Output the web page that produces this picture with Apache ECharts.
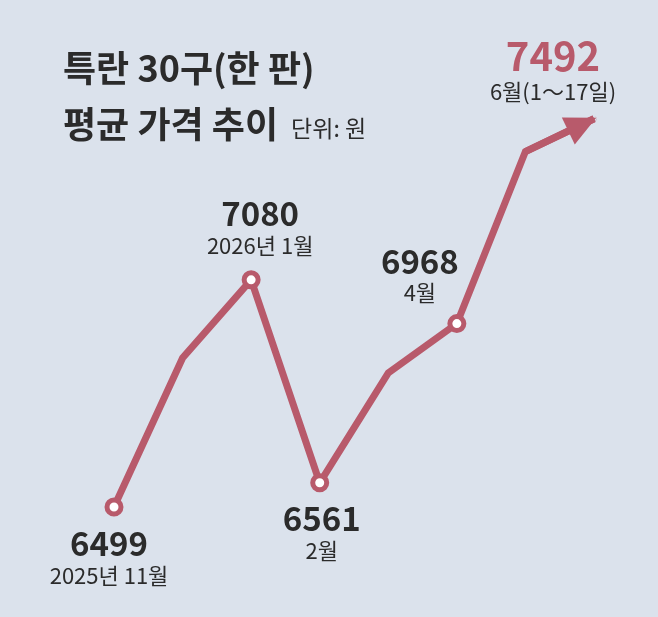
<!DOCTYPE html>
<html>
<head>
<meta charset="utf-8">
<script src="https://cdn.jsdelivr.net/npm/echarts@6/dist/echarts.min.js"></script>
<style>
  html, body { margin: 0; padding: 0; background: #dbe2ec; }
  #chart { width: 658px; height: 617px; }
</style>
</head>
<body>
<div id="chart"></div>
<script>
// months, Nov 2025 .. Jun 2026
const categories = ['2025-11', '2025-12', '2026-01', '2026-02', '2026-03', '2026-04', '2026-05', '2026-06']
// average price, 30 large eggs (won)
const prices = [6499, 6880, 7080, 6561, 6842, 6968, 7408, 7492]
// labelled points
const labelValues = ['6499', '', '7080', '6561', '', '6968', '', '7492']
const labelDates = ['2025년 11월', '', '2026년 1월', '2월', '', '4월', '', '6월(1～17일)']
const titleLines = ['특란 30구(한 판)', '평균 가격 추이']
const unitText = '단위: 원'

const rose = '#b85a6b'
const dark = '#2b2b2b'
const font = '"Noto Sans CJK KR", sans-serif'

// where each label sits relative to its point
const labelPlace = {
  0: {position: 'bottom', distance: 10, offset: [-5, 0]},
  2: {position: 'top', distance: 10, offset: [9, 0]},
  3: {position: 'bottom', distance: 9, offset: [2, 0]},
  5: {position: 'top', distance: 6, offset: [-37, 0]},
  7: {position: 'top', distance: 10, offset: [-41, 0]}
}

const last = prices.length - 1
const seriesData = prices.map((v, i) => {
  let item = {value: v}
  let hasDot = labelValues[i] !== '' && i !== last
  if (!hasDot) {
    item.symbol = i === last ? 'circle' : 'none'
    item.symbolSize = 0.1
  }
  if (labelValues[i] !== '') {
    let p = labelPlace[i]
    item.label = {
      show: true,
      position: p.position,
      distance: p.distance,
      offset: p.offset,
      align: 'center',
      formatter: '{' + (i === last ? 'vr' : 'v') + '|' + labelValues[i] + '}\n{d|' + labelDates[i] + '}'
    }
  } else {
    item.label = {show: false}
  }
  return item
})

let chart = echarts.init(document.getElementById('chart'))
chart.setOption({
  backgroundColor: '#dbe2ec',
  animation: false,
  title: {
    left: 58,
    top: 35,
    text: '{a|' + titleLines[0] + '}\n{a|' + titleLines[1] + '} {b|' + unitText + '}',
    textStyle: {
      rich: {
        a: {fontFamily: font, fontSize: 36, fontWeight: 'bold', color: dark, lineHeight: 56},
        b: {fontFamily: font, fontSize: 23, fontWeight: 'normal', color: dark, lineHeight: 56, padding: [8, 0, 0, 8]}
      }
    }
  },
  grid: {left: 114, right: 64, top: 76.5, bottom: 32.2},
  xAxis: {
    type: 'category',
    data: categories,
    boundaryGap: false,
    show: false
  },
  yAxis: {
    type: 'value',
    min: 6300,
    max: 7600,
    show: false
  },
  series: [{
    type: 'line',
    data: seriesData,
    symbol: 'circle',
    symbolSize: 14,
    z: 3,
    lineStyle: {color: rose, width: 7, join: 'miter'},
    itemStyle: {color: '#ffffff', borderColor: rose, borderWidth: 5},
    label: {
      fontFamily: font,
      rich: {
        v: {fontFamily: font, fontSize: 33, fontWeight: 'bold', color: dark, lineHeight: 34},
        vr: {fontFamily: font, fontSize: 40, fontWeight: 'bold', color: rose, lineHeight: 40},
        d: {fontFamily: font, fontSize: 22, fontWeight: 'normal', color: dark, lineHeight: 30}
      }
    },
    markLine: {
      silent: true,
      symbol: ['none', 'triangle'],
      symbolSize: [30, 31],
      symbolOffset: [0, [0, 13]],
      label: {show: false},
      lineStyle: {color: rose, width: 7, type: 'solid'},
      itemStyle: {color: rose},
      data: [[
        {coord: [categories[last - 1], prices[last - 1]]},
        {coord: [categories[last], prices[last]]}
      ]]
    }
  }]
})
</script>
</body>
</html>
